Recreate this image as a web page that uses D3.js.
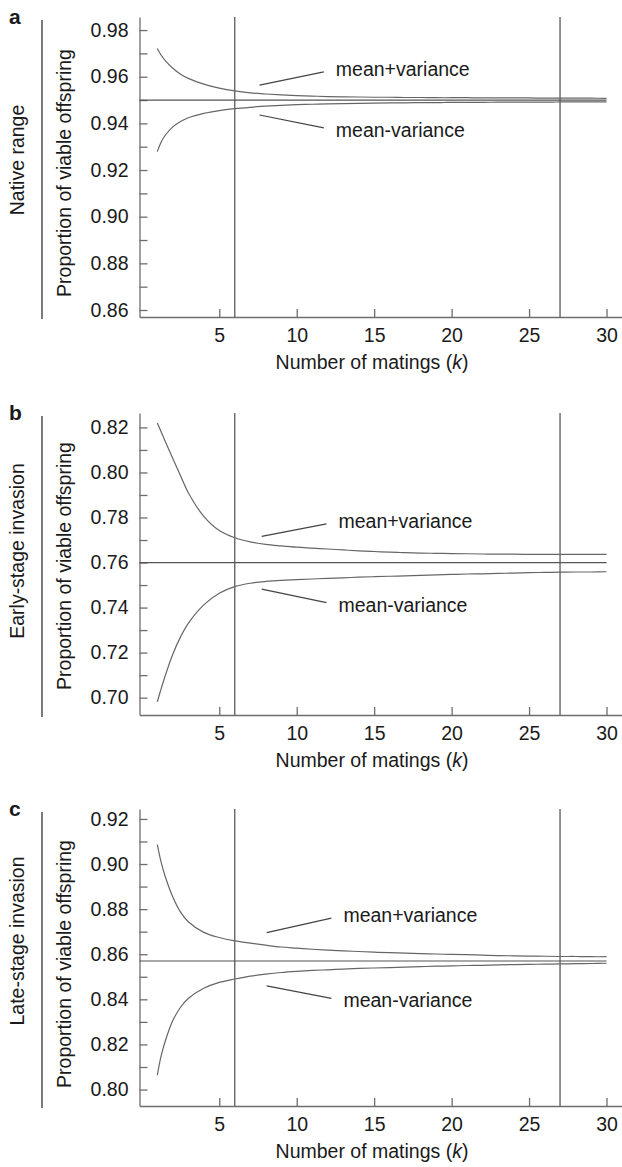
<!DOCTYPE html>
<html>
<head>
<meta charset="utf-8">
<script src="https://cdn.jsdelivr.net/npm/d3@7"></script>
<style>
  body { margin: 0; background: #fff; }
  svg { display: block; font-family: "Liberation Sans", Arial, sans-serif; }
</style>
</head>
<body>
<svg id="chart"></svg>
<script>
// number of matings (extra readings between 1 and 3 where the curves bend hard)
const kValues = [1, 1.25, 1.5, 2, 2.5, 3, 4, 5, 6, 7, 8, 9, 10, 11, 12, 13, 14, 15,
                 16, 17, 18, 19, 20, 21, 22, 23, 24, 25, 26, 27, 28, 29, 30];

// a: native range
const nativeMean = 0.95;
const nativeUpper = [0.9721, 0.9692, 0.9670, 0.9636, 0.9611, 0.9593, 0.9568, 0.9551, 0.9539, 0.9531,
                     0.9526, 0.9522, 0.9519, 0.9517, 0.9515, 0.9514, 0.9513, 0.9512, 0.9512, 0.9511,
                     0.9511, 0.9510, 0.9510, 0.9510, 0.9509, 0.9509, 0.9509, 0.9509, 0.9508, 0.9508,
                     0.9508, 0.9508, 0.9507];
const nativeLower = [0.9279, 0.9320, 0.9348, 0.9385, 0.9408, 0.9424, 0.9443, 0.9455, 0.9463, 0.9469,
                     0.9474, 0.9477, 0.9480, 0.9482, 0.9484, 0.9485, 0.9486, 0.9487, 0.9488, 0.9488,
                     0.9489, 0.9489, 0.9490, 0.9490, 0.9490, 0.9491, 0.9491, 0.9491, 0.9491, 0.9492,
                     0.9492, 0.9492, 0.9492];

// b: early-stage invasion
const earlyMean = 0.76;
const earlyUpper = [0.8220, 0.8180, 0.8140, 0.8062, 0.7985, 0.7910, 0.7805, 0.7742, 0.7710, 0.7692,
                    0.7681, 0.7674, 0.7668, 0.7664, 0.7660, 0.7656, 0.7652, 0.7649, 0.7646, 0.7644,
                    0.7642, 0.7641, 0.7640, 0.7639, 0.7638, 0.7637, 0.7637, 0.7636, 0.7636, 0.7636,
                    0.7636, 0.7636, 0.7636];
const earlyLower = [0.6982, 0.7040, 0.7095, 0.7193, 0.7270, 0.7330, 0.7412, 0.7464, 0.7493, 0.7508,
                    0.7516, 0.7521, 0.7524, 0.7527, 0.7530, 0.7532, 0.7535, 0.7537, 0.7539, 0.7541,
                    0.7543, 0.7545, 0.7547, 0.7549, 0.7550, 0.7552, 0.7553, 0.7555, 0.7556, 0.7557,
                    0.7558, 0.7558, 0.7559];

// c: late-stage invasion
const lateMean = 0.857;
const lateUpper = [0.9086, 0.9007, 0.8947, 0.8854, 0.8787, 0.8744, 0.8697, 0.8674, 0.8659, 0.8649,
                   0.8640, 0.8632, 0.8627, 0.8622, 0.8618, 0.8615, 0.8612, 0.8609, 0.8607, 0.8605,
                   0.8603, 0.8601, 0.8599, 0.8598, 0.8596, 0.8594, 0.8593, 0.8592, 0.8591, 0.8590,
                   0.8590, 0.8589, 0.8589];
const lateLower = [0.8064, 0.8150, 0.8212, 0.8306, 0.8365, 0.8404, 0.8449, 0.8475, 0.8490, 0.8503,
                   0.8512, 0.8519, 0.8524, 0.8528, 0.8531, 0.8534, 0.8537, 0.8539, 0.8541, 0.8543,
                   0.8545, 0.8547, 0.8548, 0.8550, 0.8551, 0.8553, 0.8554, 0.8555, 0.8556, 0.8557,
                   0.8558, 0.8559, 0.8560];

// vertical reference lines (k)
const refLines = [6, 27];

// tick labels
const xTicks = [5, 10, 15, 20, 25, 30];
const nativeTicks = [0.86, 0.88, 0.90, 0.92, 0.94, 0.96, 0.98];
const nativeMinor = [0.87, 0.89, 0.91, 0.93, 0.95, 0.97];
const earlyTicks = [0.70, 0.72, 0.74, 0.76, 0.78, 0.80, 0.82];
const earlyMinor = [0.71, 0.73, 0.75, 0.77, 0.79, 0.81];
const lateTicks = [0.80, 0.82, 0.84, 0.86, 0.88, 0.90, 0.92];
const lateMinor = [0.81, 0.83, 0.85, 0.87, 0.89, 0.91];

// leader lines for the labels: [k, value] start and end
const nativeLeaders = [[[7.6, 0.9564], [11.75, 0.9621]], [[7.6, 0.9436], [11.75, 0.9381]]];
const earlyLeaders = [[[7.74, 0.7716], [11.92, 0.7772]], [[7.74, 0.7482], [11.92, 0.7422]]];
const lateLeaders = [[[8.06, 0.8696], [12.24, 0.8760]], [[8.06, 0.8460], [12.24, 0.8404]]];
const leaderLabels = ["mean+variance", "mean-variance"];

const width = 622;
const height = 1167;
const fontSize = 19.5;
const textColor = "#1a1a1a";
const lineColor = "#6e6e6e";

const panels = [
    {letter: "a", region: "Native range", mean: nativeMean, upper: nativeUpper, lower: nativeLower,
     ticks: nativeTicks, minor: nativeMinor, leaders: nativeLeaders,
     top: 17, bottom: 317, yDomain: [0.857, 0.9856], regionY: 160, titleY: 173},
    {letter: "b", region: "Early-stage invasion", mean: earlyMean, upper: earlyUpper, lower: earlyLower,
     ticks: earlyTicks, minor: earlyMinor, leaders: earlyLeaders,
     top: 413, bottom: 715, yDomain: [0.6923, 0.8264], regionY: 551, titleY: 566},
    {letter: "c", region: "Late-stage invasion", mean: lateMean, upper: lateUpper, lower: lateLower,
     ticks: lateTicks, minor: lateMinor, leaders: lateLeaders,
     top: 809, bottom: 1106, yDomain: [0.7927, 0.9244], regionY: 941, titleY: 964}
];

const svg = d3.select("#chart")
    .attr("width", width)
    .attr("height", height)
    .attr("viewBox", [0, 0, width, height]);

const axisLeftX = 139.5;

const x = d3.scaleLinear()
    .domain([-0.15, 31])
    .range([axisLeftX, 622]);

panels.forEach(p => {
    const y = d3.scaleLinear()
        .domain(p.yDomain)
        .range([p.bottom, p.top]);

    const g = svg.append("g");

    // panel letter
    g.append("text")
        .attr("x", 9)
        .attr("y", p.top + 7)
        .attr("font-size", 21)
        .attr("font-weight", "bold")
        .attr("fill", textColor)
        .text(p.letter);

    // region label + divider
    g.append("text")
        .attr("transform", `translate(24,${p.regionY}) rotate(-90)`)
        .attr("text-anchor", "middle")
        .attr("font-size", fontSize)
        .attr("fill", textColor)
        .text(p.region);

    g.append("line")
        .attr("x1", 42).attr("x2", 42)
        .attr("y1", p.top + 3).attr("y2", p.bottom + 2)
        .attr("stroke", "#222")
        .attr("stroke-width", 1.2);

    // y title
    g.append("text")
        .attr("transform", `translate(71,${p.titleY}) rotate(-90)`)
        .attr("text-anchor", "middle")
        .attr("font-size", fontSize)
        .attr("fill", textColor)
        .text("Proportion of viable offspring");

    // y axis, major and minor ticks pointing inward
    g.append("g")
        .attr("transform", `translate(${axisLeftX},0)`)
        .call(d3.axisLeft(y)
            .tickValues(p.ticks)
            .tickFormat(d3.format(".2f"))
            .tickSizeInner(-8)
            .tickSizeOuter(0)
            .tickPadding(11));
    g.append("g")
        .attr("transform", `translate(${axisLeftX},0)`)
        .call(d3.axisLeft(y)
            .tickValues(p.minor)
            .tickFormat("")
            .tickSizeInner(-8)
            .tickSizeOuter(0))
        .select(".domain").remove();

    // x axis
    g.append("g")
        .attr("transform", `translate(0,${p.bottom})`)
        .call(d3.axisBottom(x)
            .tickValues(xTicks)
            .tickSizeInner(-8)
            .tickSizeOuter(0)
            .tickPadding(11.5));

    g.selectAll(".tick text")
        .attr("font-size", fontSize)
        .attr("font-family", "Liberation Sans, Arial, sans-serif")
        .attr("fill", textColor);
    g.selectAll(".domain, .tick line")
        .attr("stroke", lineColor)
        .attr("stroke-width", 1.3);

    g.append("text")
        .attr("x", 372)
        .attr("y", p.bottom + 52)
        .attr("text-anchor", "middle")
        .attr("font-size", fontSize)
        .attr("fill", textColor)
        .call(t => {
            t.append("tspan").text("Number of matings (");
            t.append("tspan").attr("font-style", "italic").text("k");
            t.append("tspan").text(")");
        });

    // vertical reference lines
    g.selectAll(".ref")
        .data(refLines)
        .enter().append("line")
        .attr("x1", d => x(d)).attr("x2", d => x(d))
        .attr("y1", p.top).attr("y2", p.bottom)
        .attr("stroke", "#5a5a5a")
        .attr("stroke-width", 1.3);

    // mean line
    g.append("line")
        .attr("x1", axisLeftX).attr("x2", x(30))
        .attr("y1", y(p.mean)).attr("y2", y(p.mean))
        .attr("stroke", "#555")
        .attr("stroke-width", 1.2);

    // mean +/- variance curves
    const line = d3.line()
        .x((d, i) => x(kValues[i]))
        .y(d => y(d))
        .curve(d3.curveCatmullRom.alpha(0.5));

    g.selectAll(".curve")
        .data([p.upper, p.lower])
        .enter().append("path")
        .attr("d", line)
        .attr("fill", "none")
        .attr("stroke", "#666")
        .attr("stroke-width", 1.2);

    // leader lines and labels
    p.leaders.forEach((l, i) => {
        g.append("line")
            .attr("x1", x(l[0][0])).attr("y1", y(l[0][1]))
            .attr("x2", x(l[1][0])).attr("y2", y(l[1][1]))
            .attr("stroke", "#444")
            .attr("stroke-width", 1.2);
        g.append("text")
            .attr("x", x(l[1][0]) + 12)
            .attr("y", y(l[1][1]) + (i === 0 ? 4 : 9))
            .attr("font-size", fontSize)
            .attr("fill", textColor)
            .text(leaderLabels[i]);
    });
});
</script>
</body>
</html>
